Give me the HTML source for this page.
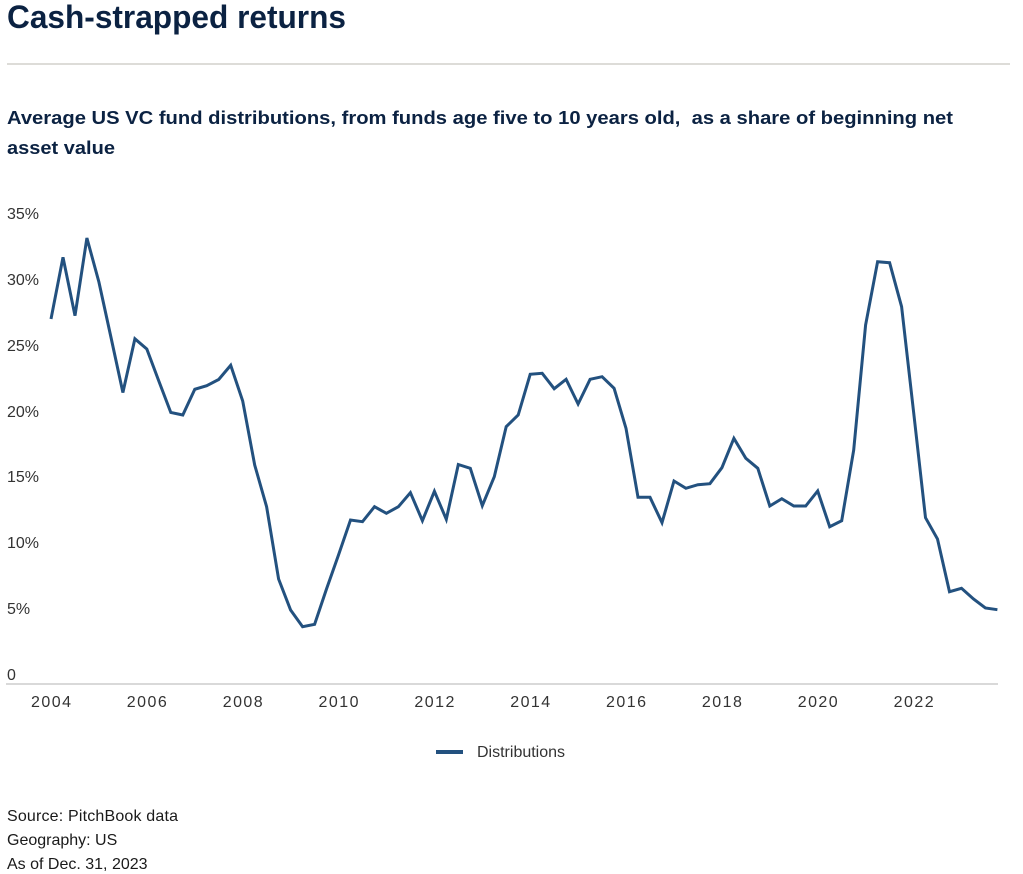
<!DOCTYPE html>
<html>
<head>
<meta charset="utf-8">
<style>
  html, body { margin: 0; padding: 0; background: #ffffff; }
  body { width: 1023px; height: 874px; overflow: hidden; }
  svg { display: block; }
  .title { font-family: "Liberation Sans", sans-serif; font-weight: bold; font-size: 32px; fill: #0b2242; }
  .sub { font-family: "Liberation Sans", sans-serif; font-weight: bold; font-size: 18px; fill: #0b2242; }
  .tick { font-family: "Liberation Sans", sans-serif; font-size: 16px; fill: #333333; }
  .foot { font-family: "Liberation Sans", sans-serif; font-size: 16px; fill: #1a1a1a; }
</style>
</head>
<body>
<svg width="1023" height="874" viewBox="0 0 1023 874" xmlns="http://www.w3.org/2000/svg">
  <rect x="0" y="0" width="1023" height="874" fill="#ffffff"/>

  <!-- Title -->
  <text class="title" x="7" y="28" textLength="339" lengthAdjust="spacingAndGlyphs">Cash-strapped returns</text>
  <!-- Separator -->
  <line x1="7" y1="64" x2="1010" y2="64" stroke="#d2d0cc" stroke-width="1.5"/>

  <!-- Subtitle -->
  <text class="sub" x="7" y="124" textLength="946" lengthAdjust="spacingAndGlyphs">Average US VC fund distributions, from funds age five to 10 years old,&#160; as a share of beginning net</text>
  <text class="sub" x="7" y="154" textLength="108" lengthAdjust="spacingAndGlyphs">asset value</text>

  <!-- Y axis labels -->
  <text class="tick" x="7" y="219">35%</text>
  <text class="tick" x="7" y="285">30%</text>
  <text class="tick" x="7" y="351">25%</text>
  <text class="tick" x="7" y="417">20%</text>
  <text class="tick" x="7" y="482">15%</text>
  <text class="tick" x="7" y="548">10%</text>
  <text class="tick" x="7" y="614">5%</text>
  <text class="tick" x="7" y="680">0</text>

  <!-- X axis line -->
  <line x1="6" y1="684" x2="998" y2="684" stroke="#d9d9d9" stroke-width="2"/>

  <!-- X axis labels -->
  <g class="tick" text-anchor="middle">
    <text x="51" y="707" textLength="40" lengthAdjust="spacing">2004</text>
    <text x="146.8" y="707" textLength="40" lengthAdjust="spacing">2006</text>
    <text x="242.7" y="707" textLength="40" lengthAdjust="spacing">2008</text>
    <text x="338.5" y="707" textLength="40" lengthAdjust="spacing">2010</text>
    <text x="434.4" y="707" textLength="40" lengthAdjust="spacing">2012</text>
    <text x="530.2" y="707" textLength="40" lengthAdjust="spacing">2014</text>
    <text x="626" y="707" textLength="40" lengthAdjust="spacing">2016</text>
    <text x="721.9" y="707" textLength="40" lengthAdjust="spacing">2018</text>
    <text x="817.7" y="707" textLength="40" lengthAdjust="spacing">2020</text>
    <text x="913.6" y="707" textLength="40" lengthAdjust="spacing">2022</text>
  </g>

  <!-- Series -->
  <polyline fill="none" stroke="#23517f" stroke-width="3" stroke-linejoin="miter" stroke-miterlimit="4" points="
    51,319 63,257.3 75,315.7 86.9,238 98.9,282 110.9,337 122.9,392.5 134.9,338.8
    146.8,349 158.8,381 170.8,412.5 182.8,415 194.8,389.3 206.7,385.7 218.7,379.5 230.7,365.3
    242.7,401 254.7,465 266.6,506.7 278.6,579 290.6,610 302.6,626.7 314.6,624.3 326.5,589
    338.5,555 350.5,520 362.5,521.7 374.5,506.7 386.4,513.3 398.4,506.7 410.4,492.7 422.4,520.7
    434.4,491.3 446.3,519.3 458.3,464.5 470.3,468.3 482.3,505.7 494.3,476.7 506.2,426.7 518.2,415
    530.2,374.3 542.2,373.3 554.2,388.7 566.1,379.3 578.1,404 590.1,379.3 602.1,376.7 614.1,388.3
    626,428.3 638,497.3 650,497.3 662,522.7 674,481 685.9,488.3 697.9,484.7 709.9,483.7
    721.9,467.7 733.9,438.3 745.8,458.3 757.8,468.3 769.8,506 781.8,498.7 793.8,506 805.7,506
    817.7,491 829.7,526.7 841.7,520.7 853.7,450 865.6,325 877.6,261.7 889.6,262.7 901.6,306.7
    913.6,412 925.5,517.7 937.5,539 949.5,591.7 961.5,588.3 973.5,599 985.4,608 997.4,609.7"/>

  <!-- Legend -->
  <rect x="436" y="750" width="27" height="4" fill="#23517f"/>
  <text class="tick" x="477" y="757" fill="#1a1a1a">Distributions</text>

  <!-- Footer -->
  <text class="foot" x="7" y="821" textLength="171" lengthAdjust="spacing">Source: PitchBook data</text>
  <text class="foot" x="7" y="845">Geography: US</text>
  <text class="foot" x="7" y="869">As of Dec. 31, 2023</text>
</svg>
</body>
</html>
